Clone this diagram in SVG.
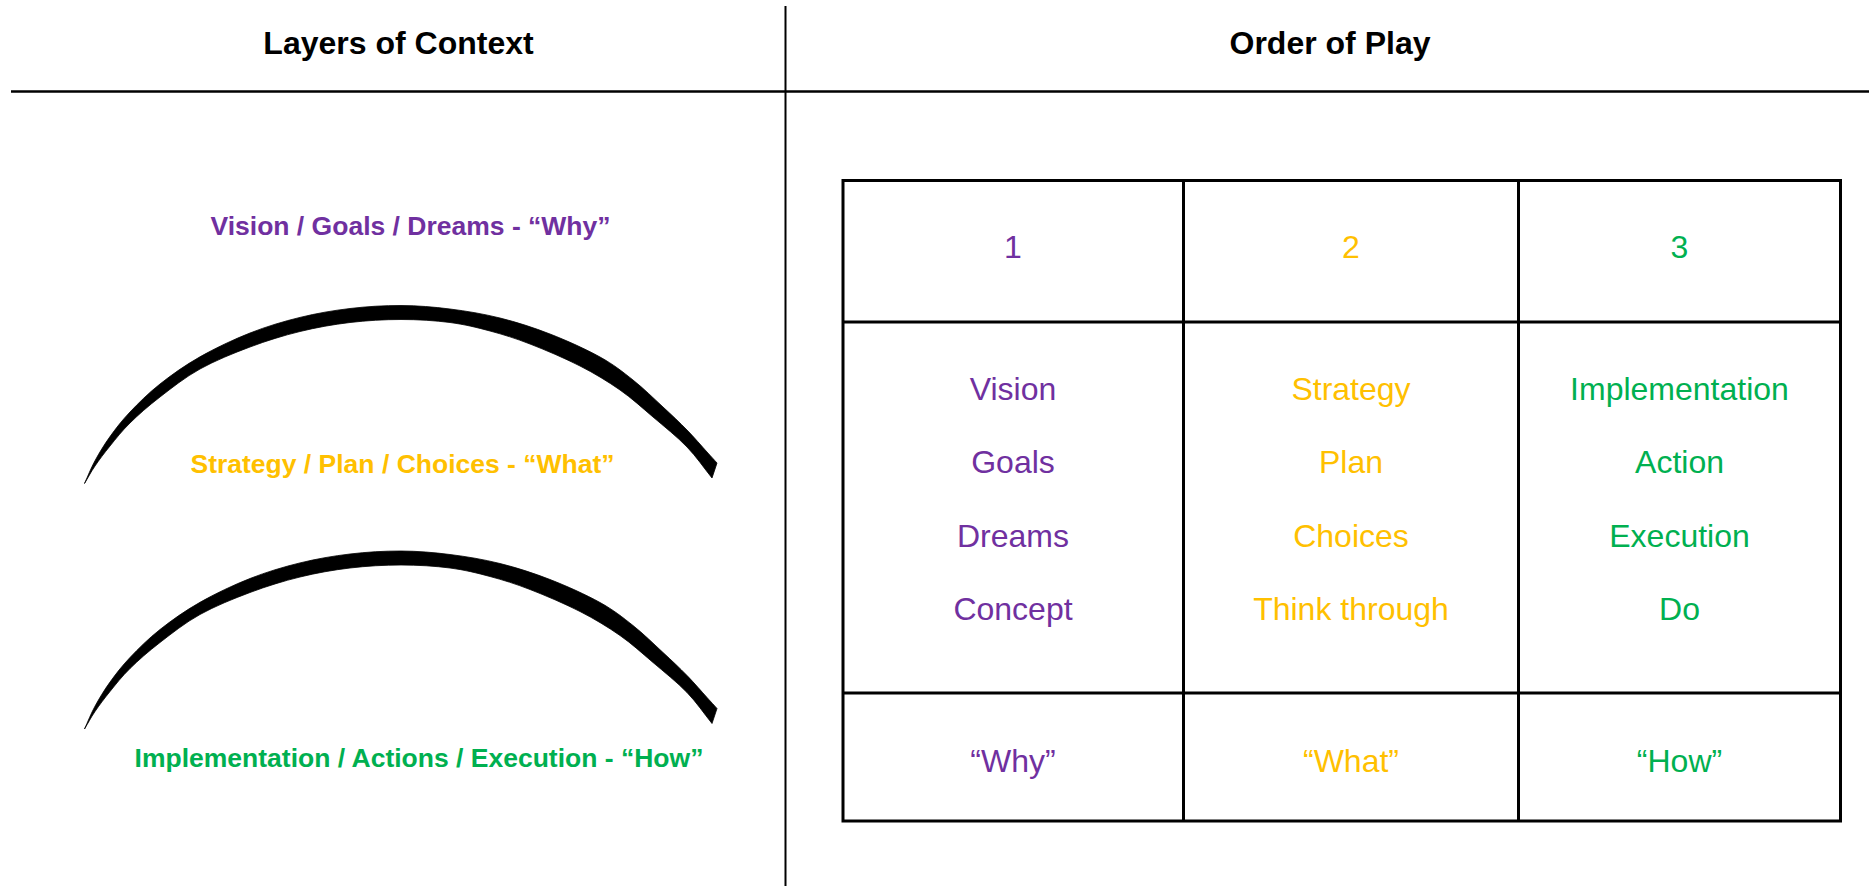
<svg xmlns="http://www.w3.org/2000/svg" width="1869" height="886" viewBox="0 0 1869 886">
  <defs>
    <style>
      .title { font-family: "Liberation Sans", Arial, sans-serif; font-weight: bold; font-size: 32px; fill: #000; text-anchor: middle; }
      .layer { font-family: "Liberation Sans", Arial, sans-serif; font-weight: bold; font-size: 26.5px; text-anchor: middle; }
      .cell { font-family: "Liberation Sans", Arial, sans-serif; font-size: 32px; text-anchor: middle; }
      .why { fill: #7030A0; }
      .what { fill: #FFC000; }
      .how { fill: #00B050; }
      .rule { stroke: #000; fill: none; }
      .grid { stroke: #000; stroke-width: 3; fill: none; }
      .arc { fill: #000; stroke: #000; stroke-width: 0.8; stroke-linejoin: round; filter: url(#soft); }
    </style>
    <filter id="soft" x="-5%" y="-5%" width="110%" height="110%">
      <feGaussianBlur stdDeviation="0.6"/>
    </filter>
    <!-- brush-stroke arch: thin tip on the left, thicker squared end on the right -->
    <path id="arch" class="arc" d="M84.5 483.5
      C88 475.9 90.75 468.52 95 460.7
      C99.25 452.88 104.17 444.72 110 436.6
      C115.83 428.48 121.67 420.77 130 412
      C138.33 403.23 148.33 393.2 160 384
      C171.67 374.8 185 365.3 200 356.8
      C215 348.3 233.33 339.57 250 333
      C266.67 326.43 283.33 321.48 300 317.4
      C316.67 313.32 333.17 310.48 350 308.5
      C366.83 306.52 384.33 305.42 401 305.5
      C417.67 305.58 433.5 306.92 450 309
      C466.5 311.08 483.33 313.83 500 318
      C516.67 322.17 533.33 327.5 550 334
      C566.67 340.5 586.17 349.33 600 357
      C613.83 364.67 622.5 371.67 633 380
      C643.5 388.33 654 398.67 663 407
      C672 415.33 679.67 422.5 687 430
      C694.33 437.5 702 446.5 707 452
      C712 457.5 713.67 459.33 717 463
      L712 478
      C703.67 467.67 696.83 457.17 687 447
      C677.17 436.83 664.17 426.5 653 417
      C641.83 407.5 632.17 398.5 620 390
      C607.83 381.5 595 373.67 580 366
      C565 358.33 545 349.83 530 344
      C515 338.17 503.33 334.58 490 331
      C476.67 327.42 464.83 324.42 450 322.5
      C435.17 320.58 417.67 319.5 401 319.5
      C384.33 319.5 366.83 320.5 350 322.5
      C333.17 324.5 316.67 327.42 300 331.5
      C283.33 335.58 266.67 340.75 250 347
      C233.33 353.25 215 360.67 200 369
      C185 377.33 171.67 388 160 397
      C148.33 406 138.33 414.83 130 423
      C121.67 431.17 115.83 438.83 110 446
      C104.17 453.17 99.25 459.75 95 466
      C90.75 472.25 88 477.67 84.5 483.5 Z"/>
  </defs>

  <rect width="1869" height="886" fill="#fff"/>

  <!-- page frame: header rule and column divider -->
  <g id="frame">
    <line class="rule" x1="11" y1="91.5" x2="1869" y2="91.5" stroke-width="2.5"/>
    <line class="rule" x1="785.5" y1="6" x2="785.5" y2="886" stroke-width="2"/>
    <text class="title" x="398.5" y="53.5">Layers of Context</text>
    <text class="title" x="1330" y="53.5">Order of Play</text>
  </g>

  <!-- left column: stacked layers separated by arches -->
  <g id="layers">
    <g id="layer-why">
      <text class="layer why" x="410.5" y="235">Vision / Goals / Dreams - “Why”</text>
    </g>
    <g id="arch-1">
      <use href="#arch"/>
    </g>
    <g id="layer-what">
      <text class="layer what" x="402.5" y="472.7">Strategy / Plan / Choices - “What”</text>
    </g>
    <g id="arch-2">
      <use href="#arch" transform="translate(0 245.5)"/>
    </g>
    <g id="layer-how">
      <text class="layer how" x="419" y="767">Implementation / Actions / Execution - “How”</text>
    </g>
  </g>

  <!-- right column: order of play table -->
  <g id="table">
    <g id="table-grid">
      <rect class="grid" x="843" y="180.5" width="997.5" height="640.5"/>
      <line class="grid" x1="843" y1="322" x2="1840.5" y2="322"/>
      <line class="grid" x1="843" y1="693" x2="1840.5" y2="693"/>
      <line class="grid" x1="1183.5" y1="180.5" x2="1183.5" y2="821"/>
      <line class="grid" x1="1518.5" y1="180.5" x2="1518.5" y2="821"/>
    </g>

    <g id="col-1" class="cell why">
      <text x="1013" y="257.5">1</text>
      <text x="1013" y="399.5">Vision</text>
      <text x="1013" y="473">Goals</text>
      <text x="1013" y="546.5">Dreams</text>
      <text x="1013" y="620">Concept</text>
      <text x="1013" y="772">“Why”</text>
    </g>

    <g id="col-2" class="cell what">
      <text x="1351" y="257.5">2</text>
      <text x="1351" y="399.5">Strategy</text>
      <text x="1351" y="473">Plan</text>
      <text x="1351" y="546.5">Choices</text>
      <text x="1351" y="620">Think through</text>
      <text x="1351" y="772">“What”</text>
    </g>

    <g id="col-3" class="cell how">
      <text x="1679.5" y="257.5">3</text>
      <text x="1679.5" y="399.5">Implementation</text>
      <text x="1679.5" y="473">Action</text>
      <text x="1679.5" y="546.5">Execution</text>
      <text x="1679.5" y="620">Do</text>
      <text x="1679.5" y="772">“How”</text>
    </g>
  </g>
</svg>
